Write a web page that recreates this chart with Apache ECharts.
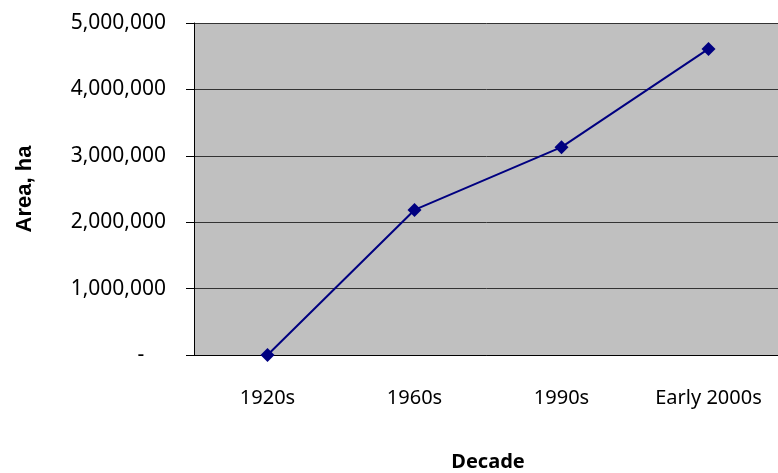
<!DOCTYPE html>
<html>
<head>
<meta charset="utf-8">
<script src="https://cdn.jsdelivr.net/npm/echarts@6/dist/echarts.min.js"></script>
<style>
  html, body { margin: 0; padding: 0; background: #fff; }
  #chart { width: 778px; height: 473px; }
</style>
</head>
<body>
<div id="chart"></div>
<script>
// data
const decades = ["1920s", "1960s", "1990s", "Early 2000s"];
const areaHa = [0, 2185000, 3130000, 4610000];
const yTicks = [0, 1000000, 2000000, 3000000, 4000000, 5000000];

const chart = echarts.init(document.getElementById("chart"));

const fmt = (v) => (v === 0 ? "-    " : v.toLocaleString("en-US"));

const option = {
  backgroundColor: "#fff",
  animation: false,
  grid: {
    left: 194,
    right: -4,
    top: 23,
    bottom: 118,
    containLabel: false,
    outerBoundsMode: "none",
    show: true,
    backgroundColor: "#c0c0c0",
    borderWidth: 0,
  },
  xAxis: {
    type: "category",
    data: decades,
    boundaryGap: true,
    name: "Decade",
    nameLocation: "middle",
    nameGap: 97,
    nameTextStyle: {
      fontFamily: "Noto Sans",
      fontWeight: "bold",
      fontSize: 20,
      color: "#000",
    },
    axisLine: { lineStyle: { color: "#000", width: 1 } },
    axisTick: { length: 8, inside: false, lineStyle: { color: "#000" } },
    axisLabel: {
      margin: 33,
      fontFamily: "Noto Sans",
      fontSize: 20,
      color: "#000",
    },
  },
  yAxis: {
    type: "value",
    min: yTicks[0],
    max: yTicks[yTicks.length - 1],
    interval: yTicks[1] - yTicks[0],
    name: "Area, ha",
    nameLocation: "middle",
    nameGap: 158,
    nameTextStyle: {
      fontFamily: "Liberation Sans",
      fontWeight: "bold",
      fontSize: 22,
      color: "#000",
    },
    axisLine: { show: true, lineStyle: { color: "#000", width: 1 } },
    axisTick: { show: true, length: 8, lineStyle: { color: "#000" } },
    splitLine: { show: true, lineStyle: { color: "#333", width: 1 } },
    axisLabel: {
      margin: 28,
      fontFamily: "Noto Sans",
      fontSize: 21,
      color: "#000",
      formatter: fmt,
    },
  },
  series: [
    {
      name: "Area",
      type: "line",
      data: areaHa,
      symbol: "diamond",
      symbolSize: 14,
      lineStyle: { color: "#000080", width: 2 },
      itemStyle: { color: "#000080" },
    },
  ],
};

chart.setOption(option);
</script>
</body>
</html>
